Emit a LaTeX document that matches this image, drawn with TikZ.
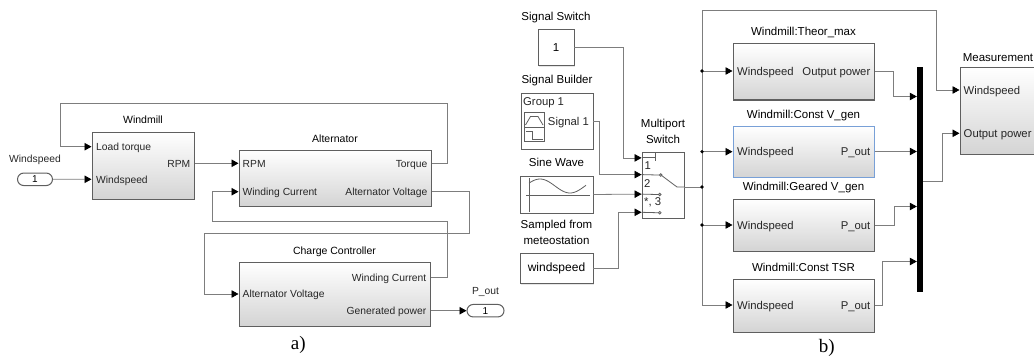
\documentclass[tikz,border=0pt]{standalone}
\usepackage{fontspec}
\setmainfont{Liberation Sans}
\newfontfamily\subcapfont{Liberation Serif}
\usepackage{tikz}
\usetikzlibrary{positioning,arrows.meta,shapes.misc,shadows,calc}
\definecolor{slline}{RGB}{125,125,125}
\definecolor{slframe}{RGB}{95,95,95}
\definecolor{slshade}{RGB}{212,212,212}
\definecolor{slselect}{RGB}{120,160,215}
\tikzset{
  blk/.style={draw=slframe, line width=1pt, top color=white, bottom color=slshade, inner sep=0pt, drop shadow={opacity=0.2, shadow xshift=1.2pt, shadow yshift=-1.2pt}},
  src/.style={draw=slframe, line width=0.9pt, fill=white, inner sep=0pt, drop shadow={opacity=0.2, shadow xshift=1.2pt, shadow yshift=-1.2pt}},
  ttl/.style={font=\fontsize{10.5}{12}\selectfont, inner sep=0pt, text height=7.5pt, text depth=0pt},
  prt/.style={font=\fontsize{10.3}{12}\selectfont, text=black!85, inner sep=0pt, text height=7.4pt, text depth=0pt},
  rttl/.style={font=\fontsize{11.5}{13}\selectfont, inner sep=0pt, text height=8.2pt, text depth=0pt},
  rprt/.style={font=\fontsize{11.3}{13}\selectfont, text=black!85, inner sep=0pt, text height=8.1pt, text depth=0pt},
  rlbl/.style={font=\fontsize{11.5}{15.7}\selectfont, inner sep=0pt, align=center},
  iop/.style={rounded rectangle, draw=slframe, line width=1pt, fill=white, minimum width=35pt, minimum height=12.5pt, inner sep=0pt, font=\fontsize{10}{12}\selectfont},
  arr/.style={-{Triangle[length=7pt,width=7.5pt,color=black]}, draw=slline, line width=0.8pt},
  ln/.style={draw=slline, line width=0.8pt},
  swin/.style={draw=slframe, line width=0.8pt},
  subcap/.style={font=\subcapfont\fontsize{19}{21}\selectfont, inner sep=0pt},
}

\begin{document}
\begin{tikzpicture}[x=1pt, y=-1pt]
  \clip (0,0) rectangle (1034,361);
  % a) windmill model
  \node[blk, minimum width=102pt, minimum height=67pt] (wm) at (143,165.5) {};
  \node[ttl, above=8pt of wm] {Windmill};
  \node[prt, anchor=west] (wm-lt) at (96,146.7) {Load torque};
  \node[prt, anchor=west] (wm-ws) at (96,179.3) {Windspeed};
  \node[prt, anchor=east] (wm-rpm) at (190.5,163.3) {RPM};

  \node[blk, minimum width=192pt, minimum height=56pt] (alt) at (335,178) {};
  \node[ttl, above=7pt of alt] {Alternator};
  \node[prt, anchor=west] (alt-rpm) at (242.5,163.3) {RPM};
  \node[prt, anchor=west] (alt-wc) at (242.5,191.7) {Winding Current};
  \node[prt, anchor=east] (alt-tq) at (427.5,163.3) {Torque};
  \node[prt, anchor=east] (alt-av) at (427.5,191.7) {Alternator Voltage};

  \node[blk, minimum width=191pt, minimum height=64pt] (cc) at (334.5,294) {};
  \node[ttl, above=7pt of cc] {Charge Controller};
  \node[prt, anchor=east] (cc-wc) at (426.5,277.3) {Winding Current};
  \node[prt, anchor=west] (cc-av) at (242.5,294) {Alternator Voltage};
  \node[prt, anchor=east] (cc-gp) at (426.5,310.7) {Generated power};

  \node[iop] (in1) at (35,179.3) {1};
  \node[prt, above=10pt of in1] {Windspeed};
  \node[iop, minimum width=37pt] (out1) at (485.5,310.7) {1};
  \node[prt, above=9.5pt of out1] {P\_out};

  \draw[arr] (in1) -- (in1 -| wm.west);
  \draw[arr] (wm.east |- wm-rpm) -- (wm-rpm -| alt.west);
  \draw[arr] (alt.east |- alt-tq) -- ++(16,0) -- ++(0,-60) -- ++(-387,0) |- (wm.west |- wm-lt);
  \draw[arr] (alt.east |- alt-av) -- ++(37.5,0) -- ++(0,41.6) -- ++(-265,0) |- (cc.west |- cc-av);
  \draw[arr] (cc.east |- cc-wc) -- ++(16.5,0) -- ++(0,-55.6) -- ++(-235,0) |- (alt.west |- alt-wc);
  \draw[arr] (cc.east |- cc-gp) -- (cc-gp -| out1.west);

  \node[subcap] at (298.3,345) {a)};

  % b) comparison model
  \node[src, minimum width=36pt, minimum height=36pt, font=\fontsize{11.5}{13}\selectfont] (sw) at (556,47.5) {1};
  \node[rttl, above=8.5pt of sw] {Signal Switch};

  \node[src, minimum width=72pt, minimum height=56pt] (sb) at (557,121) {};
  \node[rttl, above=9pt of sb] {Signal Builder};
  \node[rprt, anchor=west] (sb-grp) at (523,101.7) {Group 1};
  \node[rprt, anchor=east] (sb-sig) at (589,121) {Signal 1};
  \draw[swin] (524.3,112.7) rectangle (544.3,141.7);
  \draw[swin] (524.3,127) -- (544.3,127);
  \draw[swin] (525.5,125) -- (530.5,116.5) -- (538,116.5) -- (543,125);
  \draw[swin] (525.5,131) -- (532,131) -- (532,139.5) -- (543,139.5);

  \node[src, minimum width=73pt, minimum height=37pt] (sine) at (556.5,194.5) {};
  \node[rttl, above=8.5pt of sine] {Sine Wave};
  \draw[swin] (529.3,178) -- (529.3,211.7);
  \draw[swin] (526,195) -- (590,195);
  \draw[swin, domain=529:586, samples=40, smooth] plot (\x, {186-7*cos(6*(\x-540))});

  \node[src, minimum width=73pt, minimum height=30pt, font=\fontsize{12}{14}\selectfont] (ws) at (556.5,268.3) {windspeed};
  \node[rlbl, above=8.5pt of ws] {Sampled from\\meteostation};

  \node[src, minimum width=42pt, minimum height=65.5pt] (msw) at (663,185.5) {};
  \node[rlbl, above=8.5pt of msw] {Multiport\\Switch};
  \coordinate (si0) at ($(msw.north west)+(0,5.6)$);
  \coordinate (si1) at ($(msw.north west)+(0,22.3)$);
  \coordinate (si2) at ($(msw.north west)+(0,41.8)$);
  \coordinate (si3) at ($(msw.north west)+(0,60)$);
  \coordinate (mso) at ($(msw.east)+(0,1.5)$);
  \draw[swin] (642,157.3) -- (655.5,157.3);
  \draw[swin] (655.5,152.7) -- (655.5,160.5);
  \draw[swin] (si1) -- (659.5,175.05);
  \draw[swin] (si2) -- (658.5,194.55);
  \draw[swin] (si3) -- (658.5,212.75);
  \draw[swin] (660.8,175.05) circle (1.3pt);
  \draw[swin] (659.8,194.55) circle (1.3pt);
  \draw[swin] (659.8,212.75) circle (1.3pt);
  \draw[swin] (662,175.8) -- (677,187) -- (mso);
  \node[rprt, anchor=west] at (644.5,165) {1};
  \node[rprt, anchor=west] at (644,183) {2};
  \node[rprt, anchor=west] at (644,201.7) {*, 3};

  \draw[arr] (sw.east) -- ++(48.5,0) |- (si0);
  \draw[arr] (sb.east |- sb-sig) -- ++(5.5,0) |- (si1);
  \draw[arr] (sine.east) -- (si2);
  \draw[arr] (ws.east) -- ++(24.5,0) |- (si3);

  \node[blk, minimum width=141pt, minimum height=56pt] (th) at (803.5,72) {};
  \node[rttl, above=7.5pt of th] {Windmill:Theor\_max};
  \node[rprt, anchor=west] (th-ws) at (737,71) {Windspeed};
  \node[rprt, anchor=east] (th-op) at (870.5,71) {Output power};

  \node[blk, draw=slselect, minimum width=141pt, minimum height=51pt] (vg) at (803.5,151.5) {};
  \node[rttl, above=7pt of vg] {Windmill:Const V\_gen};
  \node[rprt, anchor=west] (vg-ws) at (737,151.7) {Windspeed};
  \node[rprt, anchor=east] (vg-po) at (870.5,151.7) {P\_out};

  \node[blk, minimum width=141pt, minimum height=52pt] (gv) at (803.5,225) {};
  \node[rttl, above=7.5pt of gv] {Windmill:Geared V\_gen};
  \node[rprt, anchor=west] (gv-ws) at (737,225) {Windspeed};
  \node[rprt, anchor=east] (gv-po) at (870.5,225) {P\_out};

  \node[blk, minimum width=141pt, minimum height=53pt] (ts) at (803.5,305.5) {};
  \node[rttl, above=7pt of ts] {Windmill:Const TSR};
  \node[rprt, anchor=west] (ts-ws) at (737,305) {Windspeed};
  \node[rprt, anchor=east] (ts-po) at (870.5,305) {P\_out};

  \node[fill=black, minimum width=6pt, minimum height=225pt, inner sep=0pt] (mux) at (920,179.5) {};
  \coordinate (mx1) at ($(mux.north west)+(0,29.7)$);
  \coordinate (mx2) at ($(mux.north west)+(0,84.7)$);
  \coordinate (mx3) at ($(mux.north west)+(0,139.7)$);
  \coordinate (mx4) at ($(mux.north west)+(0,194.7)$);
  \coordinate (mxo) at ($(mux.east)+(0,2.2)$);

  \node[blk, minimum width=76pt, minimum height=86pt] (ms) at (998,111) {};
  \node[rttl, above=6pt of ms] {Measurement};
  \node[rprt, anchor=west] (ms-ws) at (963.5,90) {Windspeed};
  \node[rprt, anchor=west] (ms-op) at (963.5,133.3) {Output power};

  \coordinate (j0) at (702,187);
  \coordinate (j1) at (702,71);
  \coordinate (j2) at (702,151.7);
  \coordinate (j3) at (702,225);
  \draw[ln] (mso) -- (j0);
  \draw[arr] (j0) |- ++(234.7,-177) |- (ms.west |- ms-ws);
  \draw[arr] (j0) |- (ts.west |- ts-ws);
  \draw[arr] (j1) -- (j1 -| th.west);
  \draw[arr] (j2) -- (j2 -| vg.west);
  \draw[arr] (j3) -- (j3 -| gv.west);
  \foreach \j in {j0,j1,j2,j3} \fill (\j) circle (1.8pt);

  \draw[arr] (th.east |- th-op) -- ++(19,0) |- (mx1);
  \draw[arr] (vg.east |- mx2) -- (mx2);
  \draw[arr] (gv.east |- gv-po) -- ++(20,0) |- (mx3);
  \draw[arr] (ts.east |- ts-po) -- ++(8,0) |- (mx4);
  \draw[arr] (mxo) -- ++(19.5,0) |- (ms.west |- ms-op);

  \node[subcap] at (826.7,348.3) {b)};
\end{tikzpicture}
\end{document}
